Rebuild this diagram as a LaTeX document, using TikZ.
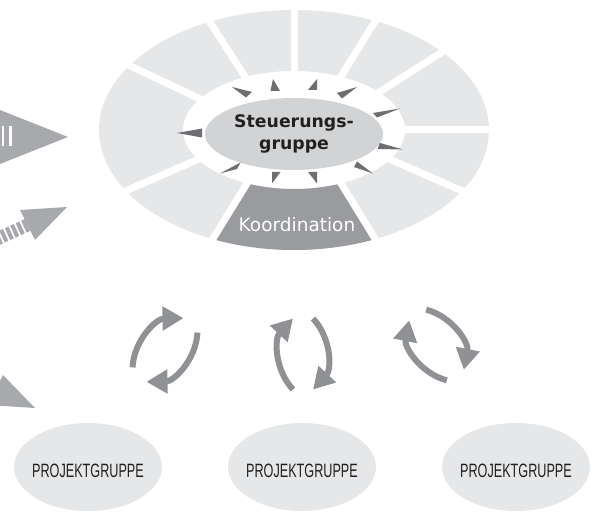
\documentclass[tikz,border=0pt]{standalone}
\usepackage{fontspec}
\setmainfont{DejaVu Sans}
\newfontfamily\condfont[FakeStretch=0.655]{Liberation Sans}
\usetikzlibrary{shapes.geometric,arrows.meta}

\definecolor{segGray}{RGB}{230,231,232}
\definecolor{hubGray}{RGB}{209,211,212}
\definecolor{koordGray}{RGB}{153,155,158}
\definecolor{rayGray}{RGB}{109,110,113}
\definecolor{inGray}{RGB}{167,169,172}
\definecolor{cycGray}{RGB}{143,145,148}
\definecolor{txtDark}{RGB}{35,31,32}

\begin{document}
\begin{tikzpicture}[x=1pt,y=1pt,>={Triangle[width=23pt,length=21pt]},
  hub/.style={ellipse,fill=hubGray,minimum width=178pt,minimum height=72pt,inner sep=0pt,
    align=center,text=txtDark,font=\fontsize{17.3}{22}\selectfont\bfseries},
  koordlabel/.style={text=white,font=\fontsize{18.5}{20}\selectfont},
  group/.style={ellipse,fill=segGray,minimum width=148pt,minimum height=88pt,inner sep=0pt},
  grouplabel/.style={anchor=base,inner sep=0pt,text=txtDark,font=\condfont\fontsize{19.3}{21}\selectfont},
  gapline/.style={white,line width=7pt},
  ray/.style={fill=rayGray},
  cyc/.style={draw=cycGray,line width=6pt,->},
  inarrow/.style={fill=inGray}]
  \useasboundingbox (0,0) rectangle (596,511);
  \clip (0,0) rectangle (596,511);

  \begin{scope}[shift={(294,381)}]
    \fill[segGray,even odd rule] (0,0) ellipse [x radius=195,y radius=120]
                                 (0,0) ellipse [x radius=111,y radius=59];
    \fill[koordGray] (-115:195 and 120) arc [start angle=-115,end angle=-65,x radius=195,y radius=120]
      -- (-65:111 and 59) arc [start angle=-65,end angle=-115,x radius=111,y radius=59] -- cycle;
    \foreach \t in {90,65,40,0,-30,-65,-115,-150,148,116}
      \draw[gapline] (\t:106 and 55) -- (\t:205 and 130);
  \end{scope}

  \node[hub] (steuer) at (294,377) {Steuerungs-\\gruppe};
  \node[koordlabel] (koord) at (297,286) {Koordination};

  \foreach \ax/\ay/\bx/\by/\cx/\cy in {177/378/202/382.5/202/373.5, 232/424/252/419/246/413.5,
      273/432/270.5/420/280/420, 317/432/308/421/317/421, 357/424/337/418/342/412.5,
      400/402.5/373/398/377/393.5, 403/361.5/380/368/377.5/362, 373/337.5/357/349.5/354/344,
      317/327.5/308/339/317/339, 272/327.5/272/339/280.5/339, 220/337.5/240.5/348.5/237/342}
    \fill[ray] (\ax,\ay) -- (\bx,\by) -- (\cx,\cy) -- cycle;

  \fill[inarrow] (-4,402.6) -- (68,374) -- (-4,345.4) -- cycle;
  \fill[white] (1.8,364.5) rectangle (4.1,384.5);
  \fill[white] (9.4,364.5) rectangle (11.7,384.5);

  \draw[inGray,line width=13pt,dash pattern=on 4pt off 2pt] (27.5,286) -- +(204.5:45);
  \fill[inarrow] (20,301) -- (67,304) -- (35,271) -- cycle;

  \draw[inGray,line width=13pt,dash pattern=on 4pt off 2pt] (-4.5,121) -- +(155.5:45);
  \fill[inarrow] (3,136) -- (35,103) -- (-12,106) -- cycle;

  \foreach \px/\py/\rot in {165/161/-46,303/157/0,436.5/166/32} {
    \begin{scope}[shift={(\px,\py)},rotate=\rot]
      \draw[cyc] (28,0) ++(223:52) arc [start angle=223,end angle=137,radius=52];
      \draw[cyc] (-28,0) ++(43:52) arc [start angle=43,end angle=-43,radius=52];
    \end{scope}
  }

  \foreach \i/\x in {1/88,2/302,3/516} {
    \node[group] (pg\i) at (\x,44) {};
    \node[grouplabel] (pg\i label) at ([yshift=-10pt]pg\i.center) {PROJEKTGRUPPE};
  }
\end{tikzpicture}
\end{document}
